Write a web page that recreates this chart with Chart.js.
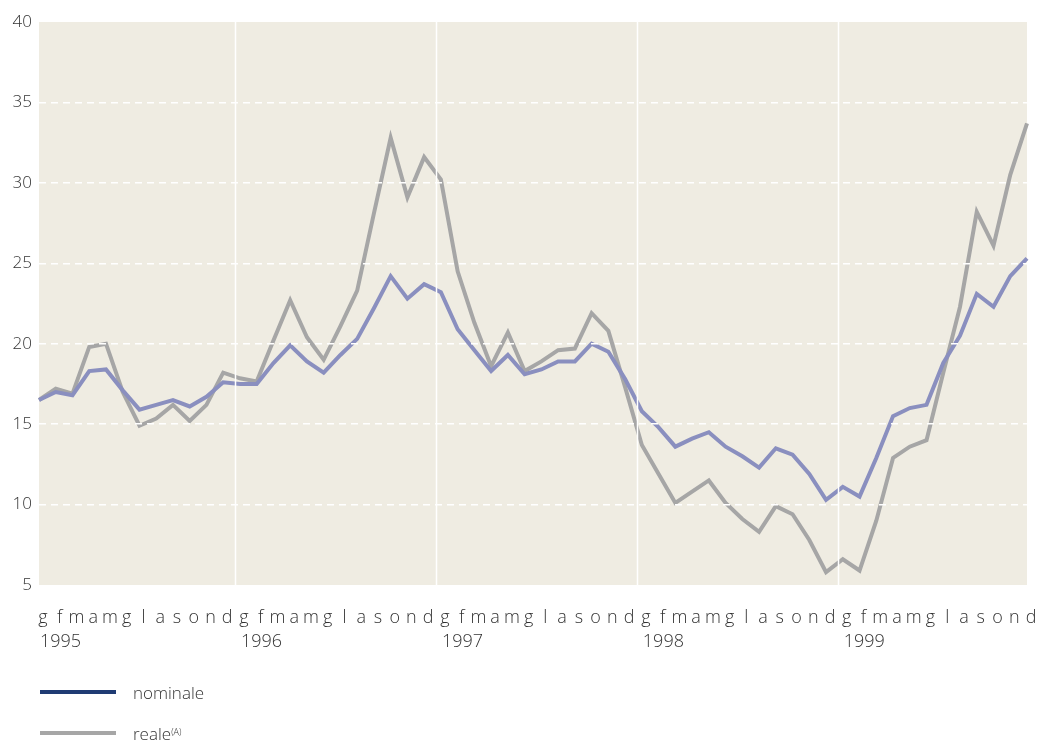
<!DOCTYPE html>
<html>
<head>
<meta charset="utf-8">
<script src="https://cdn.jsdelivr.net/npm/chart.js@4.4.0/dist/chart.umd.min.js"></script>
<style>
  html, body { margin: 0; padding: 0; background: #fff; }
  #wrap { position: relative; width: 1049px; height: 741px; }
  #legend { position: absolute; left: 40px; top: 0; font-family: "Open Sans", sans-serif; font-weight: 300; font-size: 17px; color: #333; }
  .item { position: absolute; left: 0; height: 24px; display: flex; align-items: center; white-space: nowrap; }
  .swatch { width: 76px; height: 4px; margin-right: 17px; }
  .item sup { font-size: 9px; position: relative; top: -2px; }
</style>
</head>
<body>
<div id="wrap">
  <canvas id="chart" width="1049" height="741"></canvas>
  <div id="legend">
    <div class="item" style="top:680px"><span class="swatch" style="background:#1f3b73"></span>nominale</div>
    <div class="item" style="top:721px"><span class="swatch" style="background:#a6a6a6"></span>reale<sup>(A)</sup></div>
  </div>
</div>
<script>
// ── data ─────────────────────────────────────────────────────────────────────
const MONTHS = ["g", "f", "m", "a", "m", "g", "l", "a", "s", "o", "n", "d"];
const YEARS = ["1995", "1996", "1997", "1998", "1999"];

const NOMINALE = [
    16.5, 17.0, 16.8, 18.3, 18.4, 17.1, 15.9, 16.2, 16.5, 16.1, 16.7, 17.6,
    17.5, 17.5, 18.8, 19.9, 18.9, 18.2, 19.3, 20.3, 22.2, 24.2, 22.8, 23.7,
    23.2, 20.9, 19.6, 18.3, 19.3, 18.1, 18.4, 18.9, 18.9, 20.0, 19.5, 17.8,
    15.8, 14.8, 13.6, 14.1, 14.5, 13.6, 13.0, 12.3, 13.5, 13.1, 11.9, 10.3,
    11.1, 10.5, 12.9, 15.5, 16.0, 16.2, 18.8, 20.5, 23.1, 22.3, 24.2, 25.3,
];
const REALE = [
    16.5, 17.2, 16.9, 19.8, 20.0, 17.0, 14.9, 15.35, 16.2, 15.2, 16.2, 18.2,
    17.85, 17.65, 20.2, 22.7, 20.4, 19.0, 21.1, 23.3, 28.1, 32.8, 29.1, 31.6,
    30.2, 24.5, 21.3, 18.6, 20.7, 18.3, 18.9, 19.6, 19.7, 21.9, 20.8, 17.3,
    13.7, 11.9, 10.1, 10.8, 11.5, 10.1, 9.1, 8.3, 9.9, 9.4, 7.8, 5.8,
    6.6, 5.9, 9.0, 12.9, 13.6, 14.0, 18.2, 22.3, 28.2, 26.1, 30.5, 33.7,
];

const labels = [];
YEARS.forEach(() => MONTHS.forEach(m => labels.push(m)));

const FONT = "'Open Sans', 'Liberation Sans', sans-serif";

// ── plot background ──────────────────────────────────────────────────────────
const plotBg = {
    id: "plotBg",
    beforeDraw(chart) {
        const { ctx, chartArea: a } = chart;
        ctx.save();
        ctx.fillStyle = "#efece2";
        ctx.fillRect(a.left, a.top, a.right - a.left, a.bottom - a.top);
        ctx.restore();
    },
};

// ── year separators + year labels under each January ─────────────────────────
const yearMarks = {
    id: "yearMarks",
    afterDatasetsDraw(chart) {
        const { ctx, chartArea: a, scales: { x } } = chart;
        ctx.save();
        ctx.strokeStyle = "#ffffff";
        ctx.lineWidth = 1.5;
        YEARS.forEach((yr, k) => {
            if (k === 0) return;
            const px = Math.round(x.getPixelForValue(k * 12 - 0.28)) + 0.5;
            ctx.beginPath();
            ctx.moveTo(px, a.top);
            ctx.lineTo(px, a.bottom);
            ctx.stroke();
        });
        ctx.fillStyle = "#333";
        ctx.font = "300 18px " + FONT;
        ctx.textAlign = "left";
        ctx.textBaseline = "middle";
        YEARS.forEach((yr, k) => {
            ctx.fillText(yr, x.getPixelForValue(k * 12) + 1, a.bottom + 57);
        });
        ctx.restore();
    },
};

new Chart(document.getElementById("chart"), {
    type: "line",
    data: {
        labels,
        datasets: [
            {
                label: "nominale",
                data: NOMINALE,
                borderColor: "#8a8fbf",
                borderWidth: 4,
                pointRadius: 0,
                tension: 0,
            },
            {
                label: "reale",
                data: REALE,
                borderColor: "#a6a6a6",
                borderWidth: 4,
                pointRadius: 0,
                tension: 0,
            },
        ],
    },
    options: {
        responsive: false,
        animation: false,
        layout: { padding: { top: 22, right: 22, left: 0, bottom: 0 } },
        plugins: { legend: { display: false }, tooltip: { enabled: false } },
        scales: {
            x: {
                offset: false,
                afterFit: s => { s.height = 156; s.paddingLeft = 0; s.paddingRight = 0; },
                grid: { display: false },
                border: { display: false },
                ticks: {
                    autoSkip: false,
                    maxRotation: 0,
                    labelOffset: 4,
                    padding: 14,
                    color: "#333",
                    font: { family: FONT, size: 18, weight: "300" },
                },
            },
            y: {
                min: 5,
                max: 40,
                afterFit: s => { s.width = 39; },
                grid: {
                    z: 1,
                    drawTicks: false,
                    lineWidth: 1.5,
                    color: c => (c.tick.value > 5 && c.tick.value < 40 ? "#ffffff" : "transparent"),
                },
                border: { display: false, dash: [7, 5] },
                ticks: {
                    stepSize: 5,
                    padding: 7,
                    color: "#333",
                    font: { family: FONT, size: 17, weight: "300" },
                },
            },
        },
    },
    plugins: [plotBg, yearMarks],
});
</script>
</body>
</html>
